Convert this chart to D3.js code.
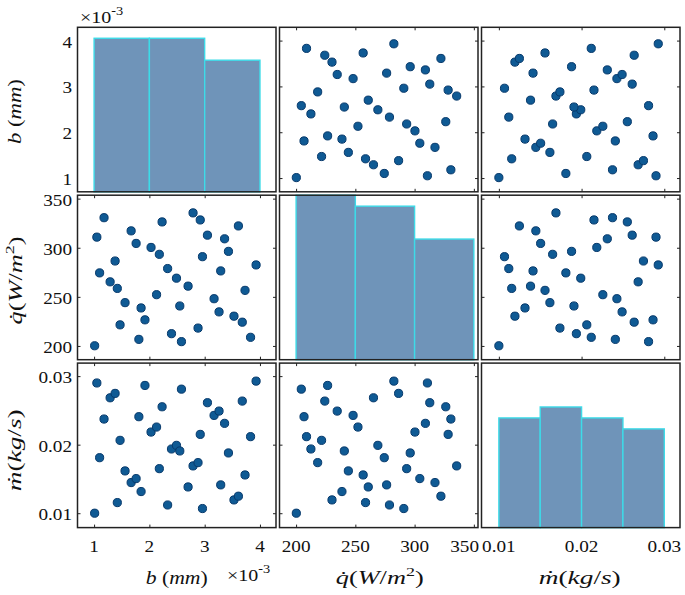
<!DOCTYPE html>
<html><head><meta charset="utf-8">
<script src="https://cdn.jsdelivr.net/npm/d3@7"></script>
<style>
body{margin:0;background:#fff}
svg text{font-family:"Liberation Serif","Times New Roman","DejaVu Serif",serif;fill:#111}
</style>
</head><body>
<svg id="c" width="685" height="595"></svg>
<script>
// ---- data (40 samples) ----
const bVals = [0.00101,0.00105,0.00118,0.00110,0.00129,0.00138,0.00142,0.00156,0.00147,0.00167,
               0.00176,0.00181,0.00185,0.00192,0.00203,0.00213,0.00218,0.00223,0.00233,0.00240,
               0.00249,0.00255,0.00258,0.00270,0.00279,0.00288,0.00292,0.00296,0.00305,0.00317,
               0.00326,0.00329,0.00336,0.00343,0.00353,0.00361,0.00368,0.00373,0.00383,0.00393];
const qVals = [200.2,310.8,330.6,274.4,265.3,286.5,258.6,244.1,221.5,317.2,
               304.4,206.7,238.7,226.6,300.3,252.2,293.3,326.3,278.8,212.5,
               269.0,240.7,204.4,260.9,335.5,218.2,328.3,290.9,312.8,248.1,
               234.7,276.4,309.1,296.3,230.3,322.2,224.2,256.6,208.8,282.5];
const mVals = [0.0100,0.0290,0.02374,0.0181,0.02684,0.02748,0.01155,0.01617,0.02063,0.01447,
               0.01505,0.02408,0.01316,0.02864,0.02184,0.02257,0.0165,0.02553,0.0112,0.01937,
               0.0199,0.01908,0.0281,0.01383,0.0169,0.01738,0.0215,0.01068,0.02612,0.02427,
               0.0249,0.01413,0.02311,0.01879,0.01194,0.01248,0.02636,0.01558,0.02117,0.02927];

const bTicks = [0.001,0.002,0.003,0.004], bTickLabels = ["1","2","3","4"];
const qTicks = [200,250,300,350],        qTickLabels = ["200","250","300","350"];
const mTicks = [0.01,0.02,0.03],         mTickLabels = ["0.01","0.02","0.03"];
const bBins = [0.001,0.002,0.003,0.004];
const qBins = [200,250,300,350];
const mBins = [0.01,0.015,0.02,0.025,0.03];
const bLim = [0.00070,0.00429], qLim = [186,353.5], mLim = [0.0079,0.0319];
const countLim = [0,15];

// ---- layout ----
const svg = d3.select("#c");
const X0 = 77.5, Y0 = 27.3, W = 198.5, H = 164.5, GX = 3.5, GY = 3.4;
const colX = j => X0 + j*(W+GX);
const rowY = i => Y0 + i*(H+GY);
const vars = [
  {vals:bVals, lim:bLim, ticks:bTicks, labels:bTickLabels, bins:bBins},
  {vals:qVals, lim:qLim, ticks:qTicks, labels:qTickLabels, bins:qBins},
  {vals:mVals, lim:mLim, ticks:mTicks, labels:mTickLabels, bins:mBins}
];
const xS = vars.map((v,j)=>d3.scaleLinear().domain(v.lim).range([colX(j), colX(j)+W]));
const yS = vars.map((v,i)=>d3.scaleLinear().domain(v.lim).range([rowY(i)+H, rowY(i)]));

const BAR_FILL = "#6f94b9", BAR_EDGE = "#3ddbe8";
const DOT_FILL = "#0f5a94", DOT_EDGE = "#07396b";
const SX = 1.2;

for (let i=0;i<3;i++){
  for (let j=0;j<3;j++){
    const g = svg.append("g");
    const x0 = colX(j), y0 = rowY(i);
    if (i===j){
      const v = vars[i];
      const bins = d3.bin().domain([v.bins[0], v.bins[v.bins.length-1]])
                    .thresholds(v.bins.slice(1,-1))(v.vals);
      const cy = d3.scaleLinear().domain(countLim).range([y0+H, y0]);
      g.selectAll("rect.bar").data(bins).join("rect").attr("class","bar")
        .attr("x", d=>xS[j](d.x0)).attr("width", d=>xS[j](d.x1)-xS[j](d.x0))
        .attr("y", d=>cy(d.length)).attr("height", d=>cy(0)-cy(d.length))
        .attr("fill", BAR_FILL).attr("stroke", BAR_EDGE).attr("stroke-width",1.4);
    } else {
      const xv = vars[j].vals, yv = vars[i].vals;
      const mk = (axis, tr) => {
        const a = g.append("g").attr("transform", tr).call(axis);
        a.select(".domain").remove();
        a.selectAll("line").attr("stroke","#222").attr("stroke-width",1);
      };
      mk(d3.axisBottom(xS[j]).tickValues(vars[j].ticks).tickSize(-3).tickFormat(""), `translate(0,${y0+H})`);
      mk(d3.axisTop(xS[j]).tickValues(vars[j].ticks).tickSize(-3).tickFormat(""), `translate(0,${y0})`);
      mk(d3.axisLeft(yS[i]).tickValues(vars[i].ticks).tickSize(-3).tickFormat(""), `translate(${x0},0)`);
      mk(d3.axisRight(yS[i]).tickValues(vars[i].ticks).tickSize(-3).tickFormat(""), `translate(${x0+W},0)`);
      g.selectAll("circle").data(d3.range(xv.length)).join("circle")
        .attr("cx", n=>xS[j](xv[n])).attr("cy", n=>yS[i](yv[n])).attr("r",4.1)
        .attr("fill", DOT_FILL).attr("stroke", DOT_EDGE).attr("stroke-width",1);
    }
    g.append("rect").attr("x",x0).attr("y",y0).attr("width",W).attr("height",H)
      .attr("fill","none").attr("stroke","#222").attr("stroke-width",1.5);
  }
}

// ---- tick labels ----
function tlabel(x, y, txt, anchor){
  const g = svg.append("g").attr("transform",`translate(${x},${y}) scale(${SX},1)`);
  const t = g.append("text").attr("text-anchor",anchor).style("font-size","16px").text(txt);
  return {g, t};
}
vars.forEach((v,i)=>{
  v.ticks.forEach((t,k)=> tlabel(72, yS[i](t)+7, v.labels[k], "end"));
});
vars.forEach((v,j)=>{
  v.ticks.forEach((t,k)=> {
    const cx = xS[j](t);
    const {g, t: tx} = tlabel(cx, 552, v.labels[k], "middle");
    const half = tx.node().getComputedTextLength()*SX/2;
    let x = cx;
    if (j < 2 && x + half > colX(j)+W+1) x = colX(j)+W+1 - half;   // keep inside its column
    if (j > 0 && x - half < colX(j)) x = colX(j) + half;
    g.attr("transform",`translate(${x},552) scale(${SX},1)`);
  });
});

// exponent labels
function expo(x, y){
  const t = svg.append("g").attr("transform",`translate(${x},${y}) scale(1.25,1)`)
    .append("text").attr("text-anchor","start").style("font-size","16px");
  t.append("tspan").text("\u00d710");
  t.append("tspan").attr("dy",-8).style("font-size","11.5px").text("-3");
}
expo(80, 23);
expo(227, 581);

// ---- axis titles ----
function title(x, y, rot, target, parts){
  const g = svg.append("g");
  const t = g.append("text").attr("text-anchor","middle").style("font-size","19px");
  parts.forEach(p=>{
    const s = t.append("tspan").text(p.t);
    if (p.i) s.style("font-style","italic");
    if (p.sup) s.attr("dy",-8).style("font-size","13px");
    if (p.back) s.attr("dy",8);
  });
  const w = t.node().getComputedTextLength();
  const sx = target / w;
  g.attr("transform",`translate(${x},${y}) rotate(${rot}) scale(${sx},1)`);
}
const bTitle = [{t:"b",i:1},{t:" ("},{t:"mm",i:1},{t:")"}];
const qTitle = [{t:"q\u0307",i:1},{t:"("},{t:"W",i:1},{t:"/"},{t:"m",i:1},{t:"2",sup:1},{t:")",back:1}];
const mTitle = [{t:"\u1e41",i:1},{t:"("},{t:"kg",i:1},{t:"/"},{t:"s",i:1},{t:")"}];

title(colX(0)+W/2, 584, 0, 62, bTitle);
title(colX(1)+W/2+1, 584, 0, 88, qTitle);
title(colX(2)+W/2-1, 584, 0, 82, mTitle);
title(21, rowY(0)+H/2+2, -90, 65, bTitle);
title(22, rowY(1)+H/2+3, -90, 88, qTitle);
title(21, rowY(2)+H/2+5, -90, 82, mTitle);
</script>
</body></html>
